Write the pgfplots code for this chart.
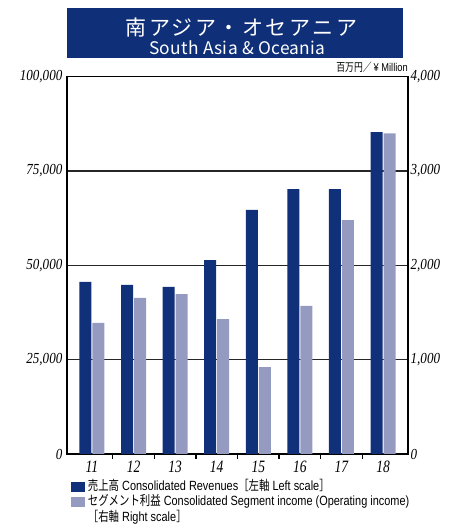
\documentclass[border=0pt]{standalone}
\usepackage{fontspec}
\usepackage{pgfplots}
\pgfplotsset{compat=1.18}
\setmainfont{Liberation Serif}
\newfontfamily\tickfont[FakeStretch=0.85]{Liberation Serif}
\newfontfamily\xtickfont[FakeStretch=0.78]{Liberation Serif}
\newfontfamily\jpc[FakeStretch=0.78]{Noto Sans CJK JP}
\newfontfamily\enc[FakeStretch=0.82]{Liberation Sans}
\newfontfamily\titlejp[LetterSpace=12]{Noto Sans CJK JP}
\newfontfamily\titleen[LetterSpace=2]{Noto Sans CJK JP}
\definecolor{dblue}{RGB}{16,48,122}
\definecolor{lblue}{RGB}{149,155,192}
\definecolor{tblue}{RGB}{15,47,120}
\pgfplotsset{sqleg/.style={legend image code/.code={\fill[##1] (0pt,-3.75pt) rectangle (10.5pt,3.75pt);}}}

\begin{document}
\begin{tikzpicture}
\useasboundingbox (0,0) rectangle (339.75pt,396pt);
\fill[tblue] (50.25pt,352.5pt) rectangle (302.25pt,390pt);
\node[text=white,font=\titlejp\fontsize{15.75}{16}\selectfont] at (181pt,375.4pt) {南アジア・オセアニア};
\node[text=white,font=\titleen\fontsize{13}{14}\selectfont] at (178pt,360pt) {South Asia \& Oceania};
\node[anchor=base east, font=\jpc\fontsize{8.5}{9}\selectfont, inner sep=0pt] at (306pt,342pt) {百万円／{\enc\,¥ Million}};

\begin{axis}[
 at={(50.25pt,55.5pt)}, anchor=south west,
 scale only axis, width=255.75pt, height=283pt,
 xmin=-0.6, xmax=7.6, ymin=0, ymax=100000,
 xtick={0,1,2,3,4,5,6,7}, xticklabels={11,12,13,14,15,16,17,18},
 minor xtick={0.5,1.5,2.5,3.5,4.5,5.5,6.5},
 major tick length=0pt, minor tick length=3.5pt, tick align=inside,
 xtick pos=bottom, ytick pos=left,
 ytick={0,25000,50000,75000,100000},
 ymajorgrids, major grid style={black!85, line width=0.8pt},
 axis line style={line width=0.9pt},
 minor tick style={line width=0.9pt, black},
 scaled y ticks=false,
 /pgf/number format/fixed,
 /pgf/number format/assume math mode=true,
 /pgf/number format/1000 sep={,},
 yticklabel style={font=\tickfont\itshape\fontsize{11.5}{12}\selectfont},
 xticklabel style={font=\xtickfont\itshape\fontsize{13}{14}\selectfont, yshift=-1.5pt},
 ybar, bar width=9pt,
]
\addplot[fill=dblue, draw=none, bar shift=-4.875pt] coordinates {
 (0,45600) (1,44800) (2,44300) (3,51400) (4,64700) (5,70200) (6,70200) (7,85300)};
\end{axis}

\begin{axis}[
 at={(50.25pt,55.5pt)}, anchor=south west,
 scale only axis, width=255.75pt, height=283pt,
 xmin=-0.6, xmax=7.6, ymin=0, ymax=4000,
 axis x line=none, axis y line*=right,
 ytick={0,1000,2000,3000,4000},
 major tick length=0pt,
 axis line style={line width=0.9pt},
 scaled y ticks=false,
 /pgf/number format/fixed,
 /pgf/number format/assume math mode=true,
 /pgf/number format/1000 sep={,},
 yticklabel style={font=\tickfont\itshape\fontsize{11.5}{12}\selectfont, xshift=-1.5pt},
 ybar, bar width=9pt,
 legend style={at={(0,0)}, anchor=north west, xshift=3pt, yshift=-19.5pt,
   draw=none, fill=none, inner sep=0pt, legend cell align=left,
   nodes={inner ysep=0.5pt, text height=7pt, text depth=2.5pt},
   row sep=0.75pt,
   font=\fontsize{10}{11.8}\selectfont},
]
\addlegendimage{fill=dblue, draw=none, sqleg}
\addlegendentry{\jpc 売上高\enc\ Consolidated Revenues\jpc［左軸\enc\ Left scale\jpc］}
\addplot[fill=lblue, draw=none, bar shift=4.875pt, sqleg] coordinates {
 (0,1390) (1,1655) (2,1695) (3,1430) (4,920) (5,1570) (6,2480) (7,3400)};
\addlegendentry{\begin{tabular}[t]{@{}l@{}}\jpc セグメント利益\enc\ Consolidated Segment income (Operating income)\\\jpc［右軸\enc\ Right scale\jpc］\end{tabular}}
\end{axis}
\end{tikzpicture}
\end{document}
